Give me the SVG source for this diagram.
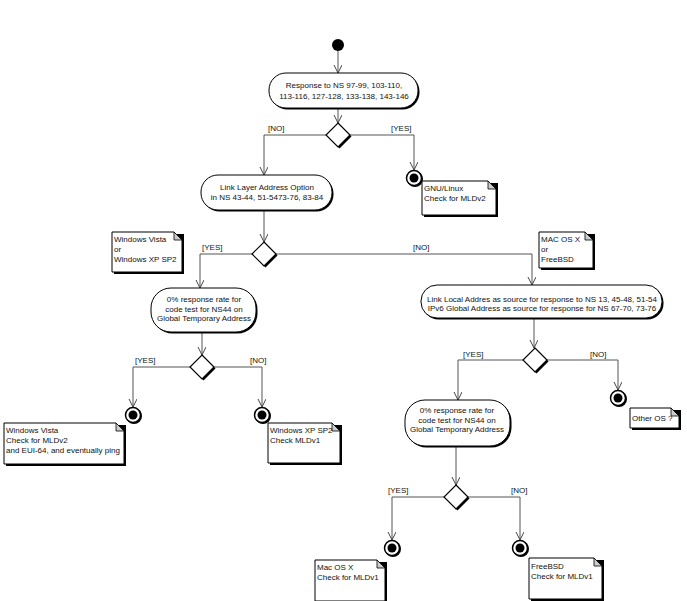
<svg xmlns="http://www.w3.org/2000/svg" width="687" height="601" viewBox="0 0 687 601">
<defs>
<marker id="arr" markerWidth="10" markerHeight="10" refX="8" refY="4" orient="auto" markerUnits="userSpaceOnUse">
<path d="M0,0 L8,4 L0,8" fill="none" stroke="#444" stroke-width="1"/>
</marker>
</defs>
<style>
text{font-family:"Liberation Sans",Arial,sans-serif;font-size:8px;fill:#111}
.c{text-anchor:middle}
.edge{fill:none;stroke:#555;stroke-width:1;marker-end:url(#arr)}
.pill{fill:#fff;stroke:#000;stroke-width:1}
.sh{fill:#000}
.dsh{fill:#000;transform:translate(1.5px,1.5px)}
.dia{fill:#fff;stroke:#000;stroke-width:1.2}
.note{fill:#fff;stroke:#000;stroke-width:1}
.fold{fill:#ccc;stroke:#000;stroke-width:0.8}
.fo{fill:#fff;stroke:#000;stroke-width:1.5}
</style>
<rect width="687" height="601" fill="#fff"/>

<g id="connectors">
<path class="edge" d="M338,51 V73"/>
<path class="edge" d="M338,108 V123"/>
<path class="edge" d="M326,135 H264 V175"/>
<path class="edge" d="M350,135 H414 V170"/>
<path class="edge" d="M264,210 V242"/>
<path class="edge" d="M252,254 H200 V288"/>
<path class="edge" d="M276,254 H532 V285"/>
<path class="edge" d="M202,332 V355"/>
<path class="edge" d="M190,367 H133 V407"/>
<path class="edge" d="M214,367 H262 V407"/>
<path class="edge" d="M534,318 V348"/>
<path class="edge" d="M523,360 H458 V400"/>
<path class="edge" d="M547,360 H618 V390"/>
<path class="edge" d="M456,446 V485"/>
<path class="edge" d="M444,497 H392 V540"/>
<path class="edge" d="M468,497 H520 V540"/>
<text x="268" y="131">[NO]</text>
<text x="391" y="131">[YES]</text>
<text x="202" y="250">[YES]</text>
<text x="413" y="250">[NO]</text>
<text x="135" y="363">[YES]</text>
<text x="250" y="363">[NO]</text>
<text x="463" y="357">[YES]</text>
<text x="590" y="357">[NO]</text>
<text x="388" y="493">[YES]</text>
<text x="511" y="493">[NO]</text>
</g>

<g id="start"><circle cx="338" cy="45" r="6" fill="#000"/></g>

<g id="a1">
<rect class="sh" x="270.5" y="74.5" width="149" height="35" rx="17"/>
<rect class="pill" x="269" y="73" width="149" height="35" rx="17"/>
<text class="c" x="344" y="88">Response to NS 97-99, 103-110,</text>
<text class="c" x="344" y="99">113-116, 127-128, 133-138, 143-146</text>
</g>
<g id="d1"><path class="dsh" d="M338,123 L350,135 L338,147 L326,135 Z"/><path class="dia" d="M338,123 L350,135 L338,147 L326,135 Z"/></g>

<g id="f1">
<circle class="sh" cx="415" cy="179" r="8"/>
<circle class="fo" cx="414" cy="178" r="7.5"/><circle cx="414" cy="178" r="4.5" fill="#000"/>
</g>
<g id="n-gnu">
<rect class="sh" x="424" y="183" width="74" height="34"/>
<path class="note" d="M422,181 H488 L496,189 V215 H422 Z"/>
<path class="fold" d="M488,181 V189 H496 Z"/>
<text x="424" y="191">GNU/Linux</text>
<text x="424" y="201">Check for MLDv2</text>
</g>

<g id="a2">
<rect class="sh" x="202.5" y="176.5" width="131" height="35" rx="17"/>
<rect class="pill" x="201" y="175" width="131" height="35" rx="17"/>
<text class="c" x="267" y="190">Link Layer Address Option</text>
<text class="c" x="267" y="200">in NS 43-44, 51-5473-76, 83-84</text>
</g>
<g id="d2"><path class="dsh" d="M264,242 L276,254 L264,266 L252,254 Z"/><path class="dia" d="M264,242 L276,254 L264,266 L252,254 Z"/></g>

<g id="n-win">
<rect class="sh" x="114" y="234" width="70" height="40"/>
<path class="note" d="M112,232 H174 L182,240 V272 H112 Z"/>
<path class="fold" d="M174,232 V240 H182 Z"/>
<text x="114" y="242">Windows Vista</text>
<text x="114" y="252">or</text>
<text x="114" y="262">Windows XP SP2</text>
</g>
<g id="n-mac">
<rect class="sh" x="541" y="234" width="54" height="36"/>
<path class="note" d="M539,232 H585 L593,240 V268 H539 Z"/>
<path class="fold" d="M585,232 V240 H593 Z"/>
<text x="541" y="242">MAC OS X</text>
<text x="541" y="252">or</text>
<text x="541" y="262">FreeBSD</text>
</g>

<g id="a3">
<rect class="sh" x="152.5" y="289.5" width="105" height="44" rx="20"/>
<rect class="pill" x="151" y="288" width="105" height="44" rx="20"/>
<text class="c" x="204" y="302">0% response rate for</text>
<text class="c" x="204" y="311.5">code test for NS44 on</text>
<text class="c" x="204" y="321">Global Temporary Address</text>
</g>
<g id="d3"><path class="dsh" d="M202,355 L214,367 L202,379 L190,367 Z"/><path class="dia" d="M202,355 L214,367 L202,379 L190,367 Z"/></g>

<g id="f-vista">
<circle class="sh" cx="134" cy="416" r="8"/>
<circle class="fo" cx="133" cy="415" r="7.5"/><circle cx="133" cy="415" r="4.5" fill="#000"/>
</g>
<g id="n-vista">
<rect class="sh" x="6" y="425" width="120" height="41"/>
<path class="note" d="M4,423 H116 L124,431 V464 H4 Z"/>
<path class="fold" d="M116,423 V431 H124 Z"/>
<text x="6" y="433">Windows Vista</text>
<text x="6" y="443">Check for MLDv2</text>
<text x="6" y="453">and EUI-64, and eventually ping</text>
</g>
<g id="f-xp">
<circle class="sh" cx="263" cy="416" r="8"/>
<circle class="fo" cx="262" cy="415" r="7.5"/><circle cx="262" cy="415" r="4.5" fill="#000"/>
</g>
<g id="n-xp">
<rect class="sh" x="270" y="425" width="72" height="40"/>
<path class="note" d="M268,423 H332 L340,431 V463 H268 Z"/>
<path class="fold" d="M332,423 V431 H340 Z"/>
<text x="270" y="433">Windows XP SP2</text>
<text x="270" y="443">Check MLDv1</text>
</g>

<g id="a4">
<rect class="sh" x="422.5" y="286.5" width="241" height="33" rx="16"/>
<rect class="pill" x="421" y="285" width="241" height="33" rx="16"/>
<text class="c" x="542" y="302">Link Local Addres as source for response to NS 13, 45-48, 51-54</text>
<text class="c" x="542" y="311">IPv6 Global Address as source for response for NS 67-70, 73-76</text>
</g>
<g id="d4"><path class="dsh" d="M535,348 L547,360 L535,372 L523,360 Z"/><path class="dia" d="M535,348 L547,360 L535,372 L523,360 Z"/></g>

<g id="f-other">
<circle class="sh" cx="619" cy="399" r="8"/>
<circle class="fo" cx="618" cy="398" r="7.5"/><circle cx="618" cy="398" r="4.5" fill="#000"/>
</g>
<g id="n-other">
<rect class="sh" x="632" y="410" width="49" height="20"/>
<path class="note" d="M630,408 H671 L679,416 V428 H630 Z"/>
<path class="fold" d="M671,408 V416 H679 Z"/>
<text x="632" y="421">Other OS ?</text>
</g>

<g id="a5">
<rect class="sh" x="406.5" y="401.5" width="105" height="46" rx="20"/>
<rect class="pill" x="405" y="400" width="105" height="46" rx="20"/>
<text class="c" x="457" y="413">0% response rate for</text>
<text class="c" x="457" y="422.5">code test for NS44 on</text>
<text class="c" x="457" y="432">Global Temporary Address</text>
</g>
<g id="d5"><path class="dsh" d="M456,485 L468,497 L456,509 L444,497 Z"/><path class="dia" d="M456,485 L468,497 L456,509 L444,497 Z"/></g>

<g id="f-macosx">
<circle class="sh" cx="393" cy="549" r="8"/>
<circle class="fo" cx="392" cy="548" r="7.5"/><circle cx="392" cy="548" r="4.5" fill="#000"/>
</g>
<g id="n-macosx">
<rect class="sh" x="317" y="562" width="70" height="41"/>
<path class="note" d="M315,560 H377 L385,568 V601 H315 Z"/>
<path class="fold" d="M377,560 V568 H385 Z"/>
<text x="317" y="570">Mac OS X</text>
<text x="317" y="580">Check for MLDv1</text>
</g>
<g id="f-freebsd">
<circle class="sh" cx="521" cy="549" r="8"/>
<circle class="fo" cx="520" cy="548" r="7.5"/><circle cx="520" cy="548" r="4.5" fill="#000"/>
</g>
<g id="n-freebsd">
<rect class="sh" x="531" y="560" width="73" height="41"/>
<path class="note" d="M529,558 H594 L602,566 V599 H529 Z"/>
<path class="fold" d="M594,558 V566 H602 Z"/>
<text x="531" y="569">FreeBSD</text>
<text x="531" y="579">Check for MLDv1</text>
</g>
</svg>
